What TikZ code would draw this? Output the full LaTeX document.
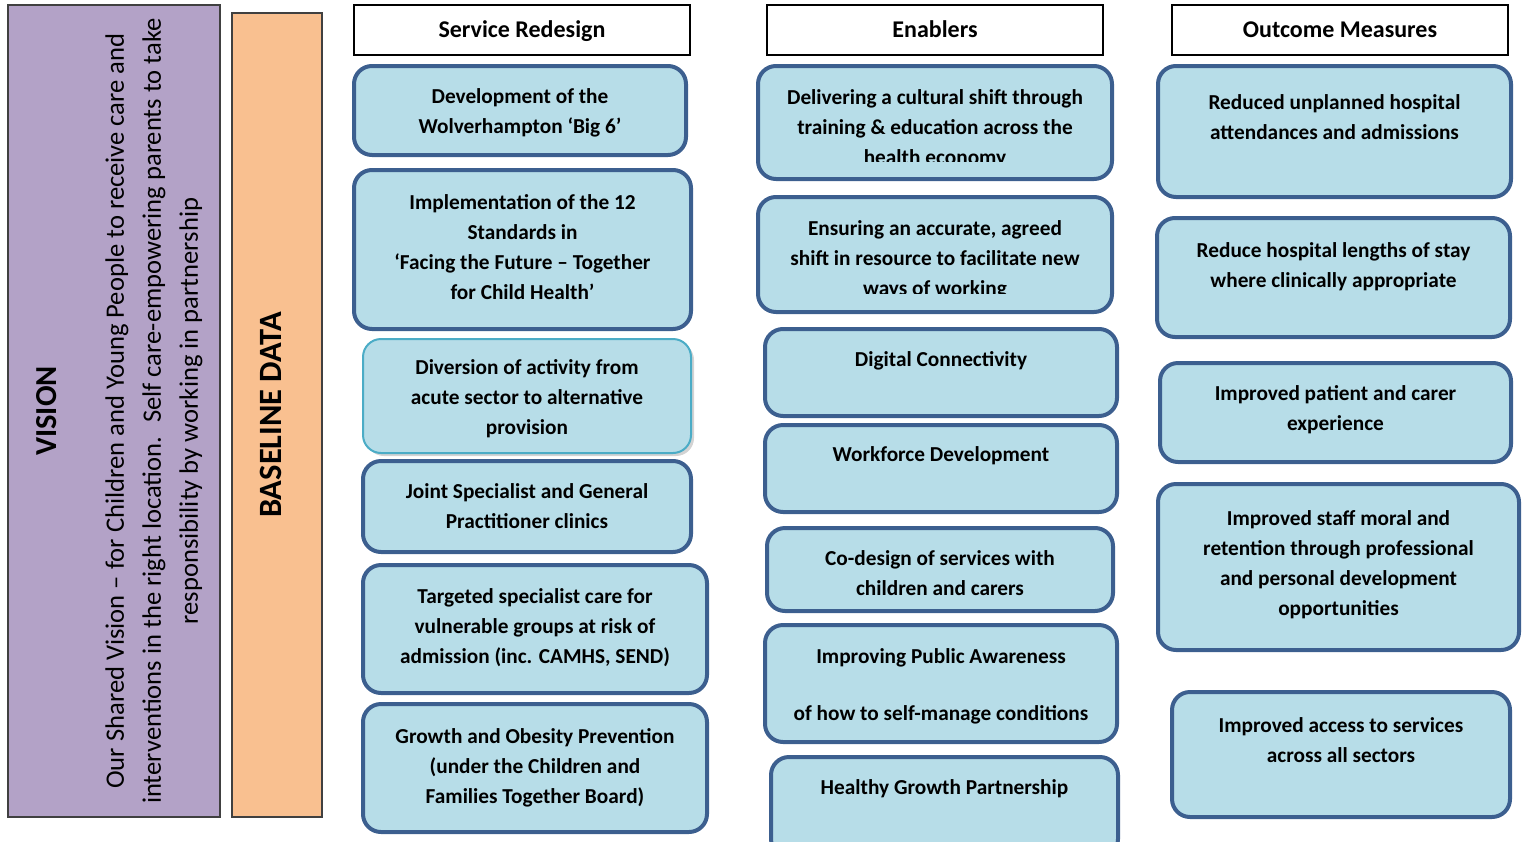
\documentclass[tikz,border=0pt]{standalone}
\usepackage{fontspec}
\setmainfont{Carlito}
\usetikzlibrary{calc}
\usetikzlibrary{positioning}
\usetikzlibrary{shadows}
\definecolor{visionpurple}{HTML}{B3A2C7}
\definecolor{baselinetan}{HTML}{F9C090}
\definecolor{cardblue}{HTML}{B7DDE8}
\definecolor{cardedge}{HTML}{3C5F8F}
\definecolor{softedge}{HTML}{4BACC6}
\tikzset{
  panel/.style={draw=black!75, line width=1.2pt, anchor=north west, inner sep=0pt, outer sep=0pt},
  head/.style={draw=black, line width=1.5pt, fill=white, anchor=north west, inner sep=0pt,
    outer sep=0pt, text height=20pt, text depth=5pt, font=\bfseries\fontsize{24}{28}\selectfont},
  card/.style={draw=cardedge, line width=4pt, fill=cardblue, rounded corners=18pt,
    anchor=north west, inner sep=0pt, outer sep=0pt},
  cardtext/.style={anchor=north, align=center, inner sep=0pt,
    font=\bfseries\fontsize{21.3}{30}\selectfont},
}

\begin{document}
\begin{tikzpicture}[x=1pt, y=-1pt]
  \useasboundingbox (0,0) rectangle (1523,841);

  % left panels
  \node [panel, fill=visionpurple, minimum width=212pt, minimum height=812pt] (vision) at (8,5) {};
  \node [panel, fill=baselinetan, minimum width=90pt, minimum height=804pt] (baseline) at (232,13) {};
  \node [rotate=90, font=\bfseries\fontsize{30.5}{36}\selectfont] (visiontitle) at (47,411) {VISION};
  \node [rotate=90, align=center, font=\fontsize{26.6}{37}\selectfont] (visiontext) at (154,411)
    {Our Shared Vision – for Children and Young People to receive care and\\
     interventions in the right location.~ Self care-empowering parents to take\\
     responsibility by working in partnership};
  \node [rotate=90, font=\bfseries\fontsize{32.5}{38}\selectfont] (baselinetitle) at (271,415) {BASELINE DATA};

  % column headings
  \node [head, minimum width=336pt, minimum height=50pt] (redesign) at (354,5) {Service Redesign};
  \node [head, minimum width=336pt, minimum height=50pt] (enablers) at (767,5) {Enablers};
  \node [head, minimum width=336pt, minimum height=50pt] (outcomes) at (1172,5) {Outcome Measures};

  % service redesign
  \node [card, minimum width=332pt, minimum height=89pt] (bigsix) at (354,66) {};
  \node [cardtext] (bigsixlabel) at ($(bigsix.north)+(0,22)$) {Development of the\\Wolverhampton ‘Big 6’};
  \node [card, minimum width=337pt, minimum height=159pt] (standards) at (354,170) {};
  \node [cardtext] (standardslabel) at ($(standards.north)+(0,24)$)
    {Implementation of the 12\\Standards in\\‘Facing the Future – Together\\for Child Health’};
  \node [card, draw=softedge, line width=2pt,
    drop shadow={shadow xshift=3pt, shadow yshift=-3pt, opacity=0.35},
    minimum width=328pt, minimum height=114pt] (diversion) at (363,339) {};
  \node [cardtext] (diversionlabel) at ($(diversion.north)+(0,20)$)
    {Diversion of activity from\\acute sector to alternative\\provision};
  \node [card, minimum width=328pt, minimum height=91pt] (clinics) at (363,461) {};
  \node [cardtext] (clinicslabel) at ($(clinics.north)+(0,22)$)
    {Joint Specialist and General\\Practitioner clinics};
  \node [card, minimum width=344pt, minimum height=128pt] (targeted) at (363,565) {};
  \node [cardtext] (targetedlabel) at ($(targeted.north)+(0,23)$)
    {Targeted specialist care for\\vulnerable groups at risk of\\admission (inc. CAMHS, SEND)};
  \node [card, minimum width=344pt, minimum height=128pt] (obesity) at (363,704) {};
  \node [cardtext] (obesitylabel) at ($(obesity.north)+(0,24)$)
    {Growth and Obesity Prevention\\(under the Children and\\Families Together Board)};

  % enablers
  \node [card, minimum width=354pt, minimum height=113pt] (culture) at (758,66) {};
  \begin{scope}
    \clip (758,66) rectangle (1112,161);
    \node [cardtext] (culturelabel) at ($(culture.north)+(0,23)$)
      {Delivering a cultural shift through\\training \& education across the\\health economy};
  \end{scope}
  \node [card, minimum width=354pt, minimum height=115pt] (resource) at (758,197) {};
  \begin{scope}
    \clip (758,197) rectangle (1112,293);
    \node [cardtext] (resourcelabel) at ($(resource.north)+(0,23)$)
      {Ensuring an accurate, agreed\\shift in resource to facilitate new\\ways of working};
  \end{scope}
  \node [card, minimum width=352pt, minimum height=87pt] (digital) at (765,329) {};
  \node [cardtext] (digitallabel) at ($(digital.north)+(0,22)$) {Digital Connectivity};
  \node [card, minimum width=352pt, minimum height=87pt] (workforce) at (765,425) {};
  \node [cardtext] (workforcelabel) at ($(workforce.north)+(0,21)$) {Workforce Development};
  \node [card, minimum width=346pt, minimum height=83pt] (codesign) at (767,528) {};
  \node [cardtext] (codesignlabel) at ($(codesign.north)+(0,22)$)
    {Co-design of services with\\children and carers};
  \node [card, minimum width=352pt, minimum height=117pt] (awareness) at (765,625) {};
  \node [cardtext] (awarenesslabel) at ($(awareness.north)+(0,23)$)
    {Improving Public Awareness\\[27pt]of how to self-manage conditions};
  \node [card, minimum width=347pt, minimum height=100pt] (growth) at (771,757) {};
  \node [cardtext] (growthlabel) at ($(growth.north)+(0,22)$) {Healthy Growth Partnership};

  % outcome measures
  \node [card, minimum width=353pt, minimum height=131pt] (unplanned) at (1158,66) {};
  \node [cardtext] (unplannedlabel) at ($(unplanned.north)+(0,28)$)
    {Reduced unplanned hospital\\attendances and admissions};
  \node [card, minimum width=353pt, minimum height=119pt] (stay) at (1157,218) {};
  \node [cardtext] (staylabel) at ($(stay.north)+(0,24)$)
    {Reduce hospital lengths of stay\\where clinically appropriate};
  \node [card, minimum width=351pt, minimum height=99pt] (experience) at (1160,363) {};
  \node [cardtext] (experiencelabel) at ($(experience.north)+(0,22)$)
    {Improved patient and carer\\experience};
  \node [card, minimum width=361pt, minimum height=166pt] (morale) at (1158,484) {};
  \node [cardtext] (moralelabel) at ($(morale.north)+(0,26)$)
    {Improved staff moral and\\retention through professional\\and personal development\\opportunities};
  \node [card, minimum width=338pt, minimum height=125pt] (access) at (1172,692) {};
  \node [cardtext] (accesslabel) at ($(access.north)+(0,25)$)
    {Improved access to services\\across all sectors};
\end{tikzpicture}
\end{document}
